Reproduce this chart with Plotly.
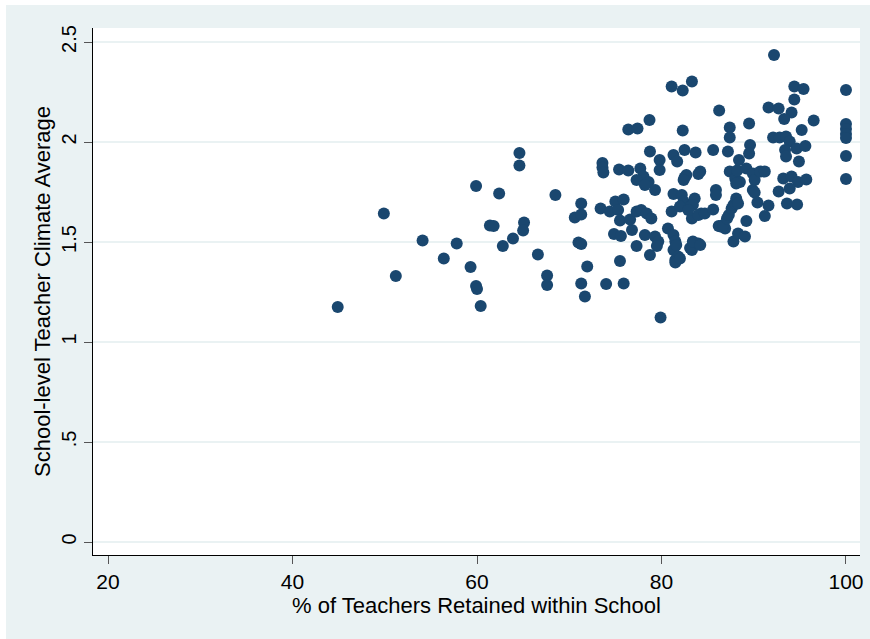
import plotly.graph_objects as go

# % of Teachers Retained within School
retention = [
    44.9, 49.9, 51.2, 54.1, 56.4, 57.8, 59.3, 59.9, 59.9, 60.0, 60.4, 61.4, 61.8, 62.4, 62.8, 63.9,
    64.6, 64.6, 65.1, 65.0, 66.6, 67.6, 67.6, 68.5,
    70.6, 71.3, 71.3, 71.0, 71.3, 71.95, 71.3, 71.7, 73.4, 73.6, 73.6, 73.7, 74.0, 74.4, 75.0, 75.3,
    75.5, 74.85, 75.6, 75.9, 75.9, 75.5, 75.4, 76.4,
    76.4, 77.4, 76.8, 76.6, 77.3, 77.8, 78.4, 78.9, 78.2, 77.3, 78.75, 79.3, 79.65, 79.5, 77.7, 78.05,
    77.3, 78.6, 79.3, 78.7, 78.75, 79.8, 79.8, 79.9, 78.2,
    80.7, 81.3, 81.5, 81.3, 81.6, 81.5, 81.8, 81.5, 81.1, 81.3, 82.2, 82.4, 82.0, 83.1, 83.3, 84.3,
    83.1, 83.3, 84.0, 83.4, 84.2, 82.0, 81.1, 82.3, 83.3, 82.3, 81.3, 81.7, 82.5, 83.7, 82.5, 82.7,
    84.2, 84.0, 82.4, 83.6, 83.4, 84.0, 82.9,
    85.6, 84.7, 85.6, 85.9, 85.9, 86.25, 87.4, 87.4, 87.2, 86.4, 86.9, 86.2, 86.7, 87.1, 87.3, 87.6,
    87.8, 88.0, 88.1, 88.3, 87.8, 88.3, 89.05, 87.4, 88.0, 88.5, 88.2, 88.4, 88.1,
    89.5, 89.6, 89.5, 89.2, 89.9, 90.1, 89.9, 90.1, 90.4, 89.2, 90.7, 91.2, 91.6, 91.2, 91.6, 92.7, 92.2,
    92.1, 92.8, 93.5, 93.9, 93.4, 93.5, 94.65, 95.6, 94.4, 95.4, 94.4, 94.1, 93.3, 96.5, 95.2, 94.9,
    93.2, 94.1, 94.8, 95.7, 93.9, 92.7, 93.6, 94.7,
    100.0, 100.0, 100.0, 100.0, 100.0, 100.0, 100.0,
]

# School-level Teacher Climate Average
climate = [
    1.175, 1.643, 1.33, 1.507, 1.417, 1.493, 1.375, 1.78, 1.28, 1.265, 1.18, 1.583, 1.58, 1.743, 1.48, 1.517,
    1.945, 1.882, 1.597, 1.557, 1.438, 1.333, 1.285, 1.735,
    1.622, 1.638, 1.693, 1.497, 1.49, 1.377, 1.293, 1.227, 1.668, 1.895, 1.872, 1.847, 1.29, 1.652, 1.702, 1.66,
    1.607, 1.54, 1.53, 1.713, 1.293, 1.405, 1.863, 1.857,
    2.063, 2.067, 1.56, 1.613, 1.652, 1.66, 1.643, 1.618, 1.535, 1.48, 1.435, 1.527, 1.502, 1.48, 1.868, 1.827,
    1.81, 1.80, 1.76, 2.11, 1.952, 1.91, 1.86, 1.123, 1.785,
    1.568, 1.535, 1.502, 1.46, 1.485, 1.41, 1.427, 1.397, 1.652, 1.74, 1.735, 1.702, 1.677, 1.677, 1.618, 1.643,
    1.47, 1.46, 1.493, 1.502, 1.485, 1.418, 2.277, 2.257, 2.302, 2.057, 1.935, 1.902, 1.96, 1.947, 1.823, 1.835,
    1.852, 1.84, 1.81, 1.718, 1.685, 1.635, 1.66,
    1.96, 1.643, 1.663, 1.76, 1.735, 2.157, 2.072, 2.023, 1.952, 1.577, 1.568, 1.58, 1.585, 1.618, 1.635, 1.668,
    1.685, 1.693, 1.718, 1.693, 1.502, 1.543, 1.527, 1.852, 1.818, 1.80, 1.857, 1.91, 1.793,
    2.093, 1.985, 1.943, 1.868, 1.843, 1.81, 1.76, 1.747, 1.697, 1.605, 1.852, 1.852, 1.682, 1.63, 2.172, 2.167, 2.435,
    2.022, 2.023, 2.027, 2.002, 1.96, 1.927, 1.968, 1.98, 2.277, 2.265, 2.213, 2.147, 2.115, 2.107, 2.06, 1.902,
    1.818, 1.827, 1.80, 1.813, 1.768, 1.752, 1.693, 1.688,
    2.26, 2.09, 2.065, 2.04, 2.02, 1.93, 1.815,
]

x_ticks = [20, 40, 60, 80, 100]
y_ticks = [0, 0.5, 1, 1.5, 2, 2.5]
y_tick_labels = ["0", ".5", "1", "1.5", "2", "2.5"]

# page offset of the figure (white strip at left/top of the page)
OFF_X, OFF_Y = 6, 5
W, H = 870 - OFF_X, 639 - OFF_Y
ML, MR, MT, MB = 93 - OFF_X, 10, 28 - OFF_Y, 84
BG = "#EAF2F3"
NAVY = "#1A476F"
FONT = "Liberation Sans, Arial, sans-serif"

fig = go.Figure()
fig.add_trace(go.Scatter(
    x=retention, y=climate, mode="markers",
    marker=dict(color=NAVY, size=12, line=dict(width=0)),
    showlegend=False, hoverinfo="x+y",
))

fig.update_layout(
    width=W, height=H,
    margin=dict(l=ML, r=MR, t=MT, b=MB, autoexpand=False),
    paper_bgcolor=BG, plot_bgcolor="white",
    font=dict(family=FONT, size=20, color="#000000"),
    xaxis=dict(
        range=[18.37, 101.52], tickvals=x_ticks, ticktext=[str(v) for v in x_ticks],
        showgrid=False, zeroline=False,
        showline=True, linecolor="#000000", linewidth=1,
        ticks="outside", ticklen=8, tickcolor="#555555", tickwidth=1,
        tickfont=dict(size=21, family=FONT),
        title=dict(text="% of Teachers Retained within School", font=dict(size=22, family=FONT), standoff=2),
    ),
    yaxis=dict(
        range=[-0.065, 2.57], tickvals=y_ticks, ticktext=y_tick_labels, tickangle=-90,
        showgrid=True, gridcolor=BG, gridwidth=2, zeroline=False,
        showline=True, linecolor="#000000", linewidth=1,
        ticks="outside", ticklen=8, tickcolor="#555555", tickwidth=1,
        tickfont=dict(size=20, family=FONT),
        title=dict(text="School-level Teacher Climate Average", font=dict(size=22, family=FONT), standoff=1),
    ),
)

fig.write_html(
    "out.html",
    post_script="document.body.style.margin='%dpx 0 0 %dpx';document.body.style.overflow='hidden';" % (OFF_Y, OFF_X),
)
